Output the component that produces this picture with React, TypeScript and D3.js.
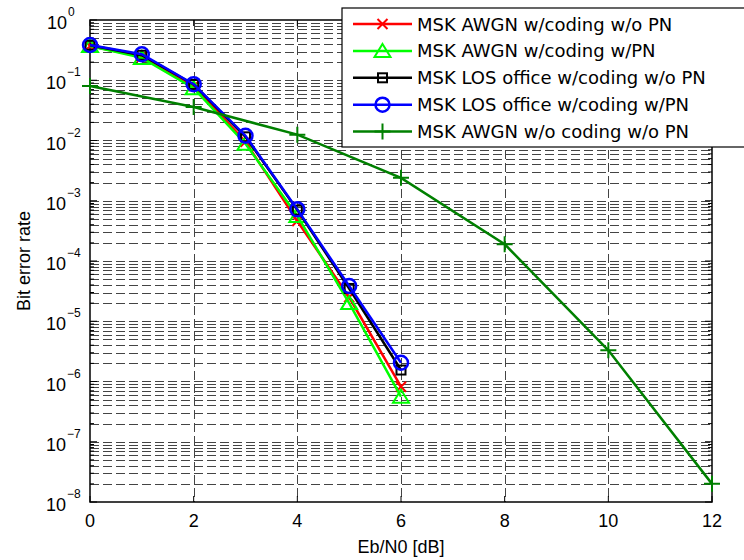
import React from "react";
import * as d3 from "d3";

const ebn0Coded = [0, 1, 2, 3, 4, 5, 6];
const awgnCodingNoPN = [0.37, 0.245, 0.08, 0.0095, 0.00046, 2.5e-5, 8.2e-7];
const awgnCodingPN = [0.37, 0.235, 0.074, 0.0088, 0.00056, 2.0e-5, 5.6e-7];
const losCodingNoPN = [0.38, 0.26, 0.085, 0.0115, 0.0007, 3.5e-5, 1.55e-6];
const losCodingPN = [0.385, 0.27, 0.086, 0.012, 0.00072, 3.85e-5, 2.05e-6];
const ebn0Uncoded = [0, 2, 4, 6, 8, 10, 12];
const awgnNoCodingNoPN = [0.08, 0.036, 0.0125, 0.0024, 0.00019, 3.3e-6, 2e-8];

const xTicks = [0, 2, 4, 6, 8, 10, 12];
const yExponents = [0, -1, -2, -3, -4, -5, -6, -7, -8];
const legendLabels = [
  "MSK AWGN w/coding w/o PN",
  "MSK AWGN w/coding w/PN",
  "MSK LOS office w/coding w/o PN",
  "MSK LOS office w/coding w/PN",
  "MSK AWGN w/o coding w/o PN",
];

type MarkerKind = "x" | "tri" | "sq" | "circ" | "plus";

const seriesDefs: { xs: number[]; ys: number[]; color: string; marker: MarkerKind }[] = [
  { xs: ebn0Coded, ys: awgnCodingNoPN, color: "#ff0000", marker: "x" },
  { xs: ebn0Coded, ys: awgnCodingPN, color: "#00ff00", marker: "tri" },
  { xs: ebn0Coded, ys: losCodingNoPN, color: "#000000", marker: "sq" },
  { xs: ebn0Coded, ys: losCodingPN, color: "#0000ff", marker: "circ" },
  { xs: ebn0Uncoded, ys: awgnNoCodingNoPN, color: "#008000", marker: "plus" },
];

function Marker({ kind, x, y, color }: { kind: MarkerKind; x: number; y: number; color: string }) {
  const sw = 2;
  switch (kind) {
    case "x":
      return (
        <path d={`M${x - 5},${y - 5}L${x + 5},${y + 5}M${x - 5},${y + 5}L${x + 5},${y - 5}`} stroke={color} strokeWidth={sw} fill="none" />
      );
    case "tri":
      return (
        <path d={`M${x},${y - 7}L${x + 8},${y + 6}L${x - 8},${y + 6}Z`} stroke={color} strokeWidth={sw} fill="none" />
      );
    case "sq":
      return <rect x={x - 4.5} y={y - 4.5} width={9} height={9} stroke={color} strokeWidth={sw} fill="none" />;
    case "circ":
      return <circle cx={x} cy={y} r={7} stroke={color} strokeWidth={sw + 0.5} fill="none" />;
    case "plus":
      return (
        <path d={`M${x - 8},${y}L${x + 8},${y}M${x},${y - 8}L${x},${y + 8}`} stroke={color} strokeWidth={sw} fill="none" />
      );
  }
}

export default function App() {
  const W = 744;
  const H = 560;
  const left = 90, right = 712, top = 20, bottom = 502;
  const x = d3.scaleLinear().domain([0, 12]).range([left, right]);
  const y = d3.scaleLog().domain([1e-8, 1]).range([bottom, top]);

  const minorVals: number[] = [];
  for (let e = -8; e < 0; e++) {
    for (let m = 2; m <= 9; m++) minorVals.push(m * Math.pow(10, e));
  }
  const majorVals = yExponents.map((e) => Math.pow(10, e));

  const line = d3
    .line<[number, number]>()
    .x((d) => x(d[0]))
    .y((d) => y(d[1]));

  const gridColor = "#444";
  const dash = "9,4";
  const font = "'Liberation Sans', Arial, sans-serif";

  const legendX = 342, legendY = 8, legendH = 139;
  const rowY = (i: number) => 24 + i * 26.9;

  return (
    <svg width={W} height={H} style={{ position: "absolute", left: 0, top: 0, background: "#fff" }} fontFamily={font}>
      <rect x={0} y={0} width={W} height={H} fill="#fff" />
      {/* grid */}
      {[...minorVals, ...majorVals.filter((v) => v < 1 && v > 1e-8)].map((v, i) => (
        <line key={"gy" + i} x1={left} x2={right} y1={Math.round(y(v)) + 0.5} y2={Math.round(y(v)) + 0.5} stroke={gridColor} strokeWidth={1} strokeDasharray={dash} />
      ))}
      {xTicks.filter((t) => t > 0 && t < 12).map((t) => (
        <line key={"gx" + t} x1={Math.round(x(t)) + 0.5} x2={Math.round(x(t)) + 0.5} y1={top} y2={bottom} stroke={gridColor} strokeWidth={1} strokeDasharray={dash} />
      ))}
      {/* ticks */}
      {xTicks.map((t) => (
        <g key={"xt" + t}>
          <line x1={x(t)} x2={x(t)} y1={bottom} y2={bottom - 6} stroke="#000" />
          <line x1={x(t)} x2={x(t)} y1={top} y2={top + 6} stroke="#000" />
          <text x={x(t)} y={527} fontSize={18} textAnchor="middle" fill="#000">{t}</text>
        </g>
      ))}
      {minorVals.map((v, i) => (
        <g key={"ym" + i}>
          <line x1={left} x2={left + 4} y1={y(v)} y2={y(v)} stroke="#000" />
          <line x1={right} x2={right - 4} y1={y(v)} y2={y(v)} stroke="#000" />
        </g>
      ))}
      {yExponents.map((e) => (
        <g key={"ye" + e}>
          <line x1={left} x2={left + 7} y1={y(Math.pow(10, e))} y2={y(Math.pow(10, e))} stroke="#000" />
          <line x1={right} x2={right - 7} y1={y(Math.pow(10, e))} y2={y(Math.pow(10, e))} stroke="#000" />
          <text x={e === 0 ? 67 : 66} y={y(Math.pow(10, e)) + 9} fontSize={18} textAnchor="end" fill="#000">10</text>
          <text x={e === 0 ? 68 : 67} y={y(Math.pow(10, e)) - 4} fontSize={12} textAnchor="start" fill="#000">{e === 0 ? "0" : "\u2212" + -e}</text>
        </g>
      ))}
      {/* axes box */}
      <rect x={left} y={top} width={right - left} height={bottom - top} fill="none" stroke="#000" strokeWidth={1.5} />
      {/* series */}
      {seriesDefs.map((s, si) => {
        const pts = s.xs.map((xv, i) => [xv, s.ys[i]] as [number, number]);
        return (
          <g key={"s" + si}>
            <path d={line(pts) || ""} fill="none" stroke={s.color} strokeWidth={2.5} />
            {pts.map((p, i) => (
              <Marker key={i} kind={s.marker} x={x(p[0])} y={y(p[1])} color={s.color} />
            ))}
          </g>
        );
      })}
      {/* axis labels */}
      <text x={(left + right) / 2} y={553} fontSize={18} textAnchor="middle" fill="#000">Eb/N0 [dB]</text>
      <text transform={`translate(30,${(top + bottom) / 2}) rotate(-90)`} fontSize={18} textAnchor="middle" fill="#000">Bit error rate</text>
      {/* legend */}
      <rect x={legendX} y={legendY} width={430} height={legendH} fill="#fff" stroke="#000" strokeWidth={1.2} />
      {legendLabels.map((lab, i) => {
        const s = seriesDefs[i];
        const cy = rowY(i);
        return (
          <g key={"lg" + i}>
            <line x1={353} x2={412} y1={cy} y2={cy} stroke={s.color} strokeWidth={2.5} />
            <Marker kind={s.marker} x={382.5} y={cy} color={s.color} />
            <text x={417} y={cy + 6.5} fontSize={18} fontFamily="'DejaVu Sans', sans-serif" fill="#000">{lab}</text>
          </g>
        );
      })}
    </svg>
  );
}
